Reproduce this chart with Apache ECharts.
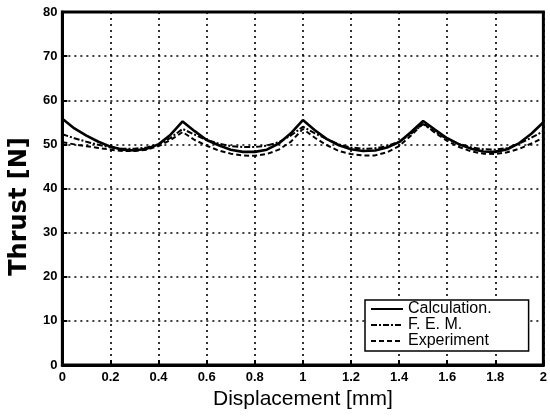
<!DOCTYPE html>
<html>
<head>
<meta charset="utf-8">
<script src="https://cdn.jsdelivr.net/npm/echarts@6/dist/echarts.min.js"></script>
<style>
  html, body { margin: 0; padding: 0; background: #fff; }
  #chart { width: 550px; height: 417px; }
</style>
</head>
<body>
<div id="chart"></div>
<script>
// displacement [mm]
const displacement = [0, 0.05, 0.1, 0.15, 0.2, 0.25, 0.3, 0.35, 0.4, 0.45, 0.5,
  0.55, 0.6, 0.65, 0.7, 0.75, 0.8, 0.85, 0.9, 0.95, 1.0,
  1.05, 1.1, 1.15, 1.2, 1.25, 1.3, 1.35, 1.4, 1.45, 1.5,
  1.55, 1.6, 1.65, 1.7, 1.75, 1.8, 1.85, 1.9, 1.95, 2.0];

// thrust [N]
const calculation = [55.8, 53.6, 52.0, 50.6, 49.5, 48.8, 48.6, 49.0, 50.0, 52.2, 55.2,
  53.0, 51.0, 49.8, 48.8, 48.3, 48.3, 48.8, 50.2, 52.5, 55.5,
  53.2, 51.2, 49.8, 48.9, 48.5, 48.6, 49.3, 50.5, 52.8, 55.3,
  53.3, 51.4, 50.0, 49.0, 48.4, 48.3, 48.9, 50.3, 52.4, 55.0];

const fem = [52.3, 51.4, 50.6, 49.9, 49.3, 49.0, 49.0, 49.3, 50.0, 51.5, 53.5,
  52.2, 51.0, 50.2, 49.6, 49.4, 49.4, 49.7, 50.5, 52.0, 54.0,
  52.5, 51.2, 50.0, 49.3, 49.0, 49.1, 49.6, 50.6, 52.4, 54.6,
  52.8, 51.2, 50.1, 49.3, 48.9, 48.8, 49.2, 50.2, 51.5, 53.0];

const experiment = [50.5, 50.0, 49.6, 49.2, 48.8, 48.5, 48.5, 48.8, 49.6, 51.0, 52.8,
  51.0, 49.7, 48.6, 47.9, 47.5, 47.4, 47.8, 48.8, 50.6, 53.5,
  51.5, 49.8, 48.5, 47.8, 47.5, 47.5, 48.2, 49.6, 52.0, 54.8,
  52.6, 50.8, 49.4, 48.4, 47.9, 47.8, 48.2, 49.0, 50.2, 51.5];

const seriesNames = ['Calculation.', 'F. E. M.', 'Experiment'];

const pairs = (ys) => displacement.map((x, i) => [x, ys[i]]);

const chart = echarts.init(document.getElementById('chart'));

chart.setOption({
  backgroundColor: '#fff',
  animation: false,
  grid: {
    left: 59, right: 5, top: 12, bottom: 52,
    show: true,
    borderColor: '#000',
    borderWidth: 3,
    backgroundColor: 'transparent'
  },
  legend: {
    data: seriesNames,
    orient: 'vertical',
    left: 365,
    top: 300,
    itemWidth: 32,
    itemHeight: 12,
    itemGap: 0,
    padding: [1, 37, 2, 5],
    borderColor: '#000',
    borderWidth: 1.5,
    backgroundColor: '#fff',
    itemStyle: { color: 'transparent', borderWidth: 0 },
    textStyle: {
      color: '#000',
      fontSize: 16,
      fontFamily: 'Liberation Sans, Arial, sans-serif'
    }
  },
  xAxis: {
    type: 'value',
    min: 0,
    max: 2,
    interval: 0.2,
    name: 'Displacement [mm]',
    nameLocation: 'middle',
    nameGap: 22,
    nameTextStyle: {
      color: '#000',
      fontSize: 21,
      fontFamily: 'Liberation Sans, Arial, sans-serif'
    },
    axisLine: { show: true, lineStyle: { color: '#000', width: 3 } },
    axisTick: { show: true, inside: true, length: 5, lineStyle: { color: '#000', width: 2 } },
    axisLabel: {
      color: '#000',
      fontSize: 13,
      fontWeight: 'bold',
      fontFamily: 'Liberation Sans, Arial, sans-serif',
      margin: 6
    },
    splitLine: { show: true, lineStyle: { color: '#000', width: 1.6, type: [2, 4] } }
  },
  yAxis: {
    type: 'value',
    min: 0,
    max: 80,
    interval: 10,
    name: 'Thrust [N]',
    nameLocation: 'middle',
    nameGap: 30,
    nameRotate: 90,
    nameTextStyle: {
      color: '#000',
      fontSize: 24,
      fontWeight: 'bold',
      fontFamily: 'DejaVu Sans, sans-serif',
      padding: [0, 36, 0, 0]
    },
    axisLine: { show: true, lineStyle: { color: '#000', width: 3 } },
    axisTick: { show: true, inside: true, length: 5, lineStyle: { color: '#000', width: 2 } },
    axisLabel: {
      color: '#000',
      fontSize: 13,
      fontWeight: 'bold',
      fontFamily: 'Liberation Sans, Arial, sans-serif',
      margin: 5
    },
    splitLine: { show: true, lineStyle: { color: '#000', width: 1.6, type: [2, 4] } }
  },
  series: [
    {
      name: seriesNames[0],
      type: 'line',
      data: pairs(calculation),
      symbol: 'none',
      lineStyle: { color: '#000', width: 2.6, type: 'solid' },
      itemStyle: { color: '#000' },
      z: 5
    },
    {
      name: seriesNames[1],
      type: 'line',
      data: pairs(fem),
      symbol: 'none',
      lineStyle: { color: '#000', width: 2, type: [6, 2, 2, 2] },
      itemStyle: { color: '#000' },
      z: 4
    },
    {
      name: seriesNames[2],
      type: 'line',
      data: pairs(experiment),
      symbol: 'none',
      lineStyle: { color: '#000', width: 2, type: [5, 3] },
      itemStyle: { color: '#000' },
      z: 3
    }
  ]
});
</script>
</body>
</html>
